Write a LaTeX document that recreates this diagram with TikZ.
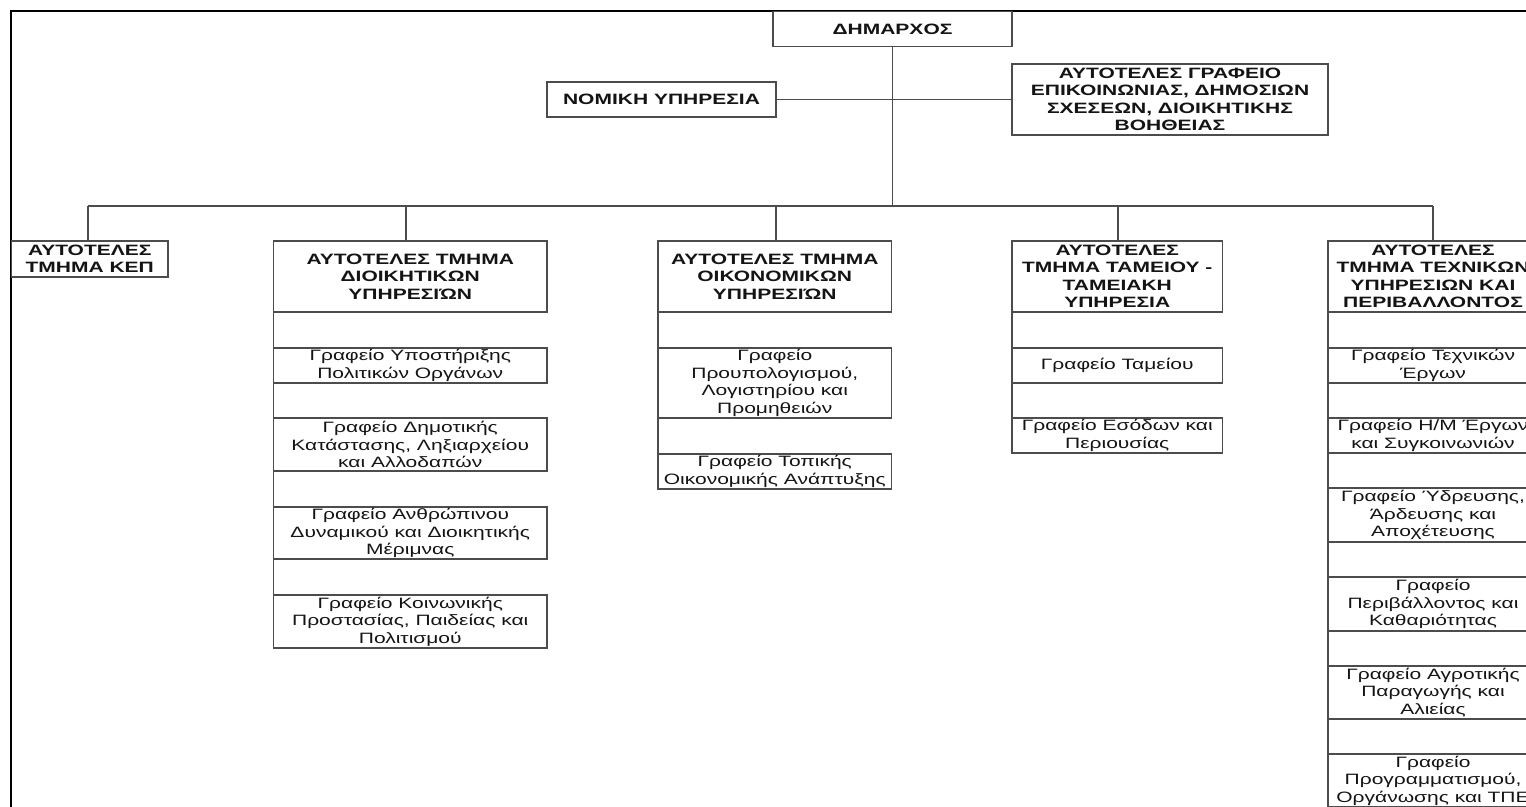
\documentclass[tikz,border=0pt]{standalone}
\usepackage{fontspec}
\newfontfamily\orgfont{Liberation Sans}[FakeStretch=1.4]
\newcommand{\orgbox}[7]{\node[#1, minimum width={(#5-(#3))*1pt}, minimum height={(#6-(#4))*1pt}] (#2) at (#3,#4) {#7};}
\begin{document}
\begin{tikzpicture}[x=1pt,y=-1pt,
  obox/.style={draw=black!70, line width=1.4pt, fill=white, inner sep=0pt, outer sep=0pt,
    align=center, anchor=north west, text=black!92,
    font=\orgfont\fontsize{15pt}{17.5pt}\selectfont},
  hbox/.style={obox, font=\orgfont\bfseries\fontsize{15pt}{17.5pt}\selectfont},
  conn/.style={draw=black!70, line width=1.4pt},
  frame/.style={draw=black, line width=1.8pt}]
\useasboundingbox (0,0) rectangle (1526,806);
\clip (0,0) rectangle (1526,806);
\draw[frame] (11,11) rectangle (1600,900);
% top level
\orgbox{hbox}{dim}{773}{11.5}{1012}{46.5}{ΔΗΜΑΡΧΟΣ}
\orgbox{hbox}{nom}{547}{82}{776}{117}{ΝΟΜΙΚΗ ΥΠΗΡΕΣΙΑ}
\orgbox{hbox}{gra}{1012}{64}{1328}{135}{ΑΥΤΟΤΕΛΕΣ ΓΡΑΦΕΙΟ\\ΕΠΙΚΟΙΝΩΝΙΑΣ, ΔΗΜΟΣΙΩΝ\\ΣΧΕΣΕΩΝ, ΔΙΟΙΚΗΤΙΚΗΣ\\ΒΟΗΘΕΙΑΣ}
% department headers
\orgbox{hbox}{h1}{11.5}{241}{168}{277}{ΑΥΤΟΤΕΛΕΣ\\ΤΜΗΜΑ ΚΕΠ}
\orgbox{hbox}{h2}{273.5}{241}{547}{312}{ΑΥΤΟΤΕΛΕΣ ΤΜΗΜΑ\\ΔΙΟΙΚΗΤΙΚΩΝ\\ΥΠΗΡΕΣΙΏΝ}
\orgbox{hbox}{h3}{658}{241}{891.5}{312}{ΑΥΤΟΤΕΛΕΣ ΤΜΗΜΑ\\ΟΙΚΟΝΟΜΙΚΩΝ\\ΥΠΗΡΕΣΙΏΝ}
\orgbox{hbox}{h4}{1012}{241}{1222.5}{312}{ΑΥΤΟΤΕΛΕΣ\\ΤΜΗΜΑ ΤΑΜΕΙΟΥ -\\ΤΑΜΕΙΑΚΗ\\ΥΠΗΡΕΣΙΑ}
\orgbox{hbox}{h5}{1328}{241}{1538}{312}{ΑΥΤΟΤΕΛΕΣ\\ΤΜΗΜΑ ΤΕΧΝΙΚΩΝ\\ΥΠΗΡΕΣΙΩΝ ΚΑΙ\\ΠΕΡΙΒΑΛΛΟΝΤΟΣ}
% column 2
\orgbox{obox}{s21}{273.5}{348}{547}{383}{Γραφείο Υποστήριξης\\Πολιτικών Οργάνων}
\orgbox{obox}{s22}{273.5}{418}{547}{471}{Γραφείο Δημοτικής\\Κατάστασης, Ληξιαρχείου\\και Αλλοδαπών}
\orgbox{obox}{s23}{273.5}{507}{547}{559}{Γραφείο Ανθρώπινου\\Δυναμικού και Διοικητικής\\Μέριμνας}
\orgbox{obox}{s24}{273.5}{595}{547}{648}{Γραφείο Κοινωνικής\\Προστασίας, Παιδείας και\\Πολιτισμού}
% column 3
\orgbox{obox}{s31}{658}{348}{891.5}{418}{Γραφείο\\Προυπολογισμού,\\Λογιστηρίου και\\Προμηθειών}
\orgbox{obox}{s32}{658}{454}{891.5}{489}{Γραφείο Τοπικής\\Οικονομικής Ανάπτυξης}
% column 4
\orgbox{obox}{s41}{1012}{348}{1222.5}{383}{Γραφείο Ταμείου}
\orgbox{obox}{s42}{1012}{418}{1222.5}{453}{Γραφείο Εσόδων και\\Περιουσίας}
% column 5
\orgbox{obox}{s51}{1328}{348}{1538}{383}{Γραφείο Τεχνικών\\Έργων}
\orgbox{obox}{s52}{1328}{418}{1538}{453}{Γραφείο Η/Μ Έργων\\και Συγκοινωνιών}
\orgbox{obox}{s53}{1328}{488}{1538}{542}{Γραφείο Ύδρευσης,\\Άρδευσης και\\Αποχέτευσης}
\orgbox{obox}{s54}{1328}{577}{1538}{631}{Γραφείο\\Περιβάλλοντος και\\Καθαριότητας}
\orgbox{obox}{s55}{1328}{666}{1538}{719}{Γραφείο Αγροτικής\\Παραγωγής και\\Αλιείας}
\orgbox{obox}{s56}{1328}{754}{1538}{807}{Γραφείο\\Προγραμματισμού,\\Οργάνωσης και ΤΠΕ}
% connectors
\coordinate (b1) at (88,206);
\coordinate (b2) at (406,206);
\coordinate (b3) at (776,206);
\coordinate (b4) at (1118,206);
\coordinate (b5) at (1433,206);
\draw[conn] (b1) -- (b5);
\draw[conn] (dim.south) -- (dim.south |- b1);
\draw[conn] (nom.east) -- (gra.west);
\foreach \i in {1,...,5} {\draw[conn] (b\i) -- (b\i |- h\i.north);}
\draw[conn] (h2.south west) -- (s24.north west);
\draw[conn] (h3.south west) -- (s32.north west);
\draw[conn] (h4.south west) -- (s42.north west);
\draw[conn] (h5.south west) -- (s56.north west);
\end{tikzpicture}
\end{document}
